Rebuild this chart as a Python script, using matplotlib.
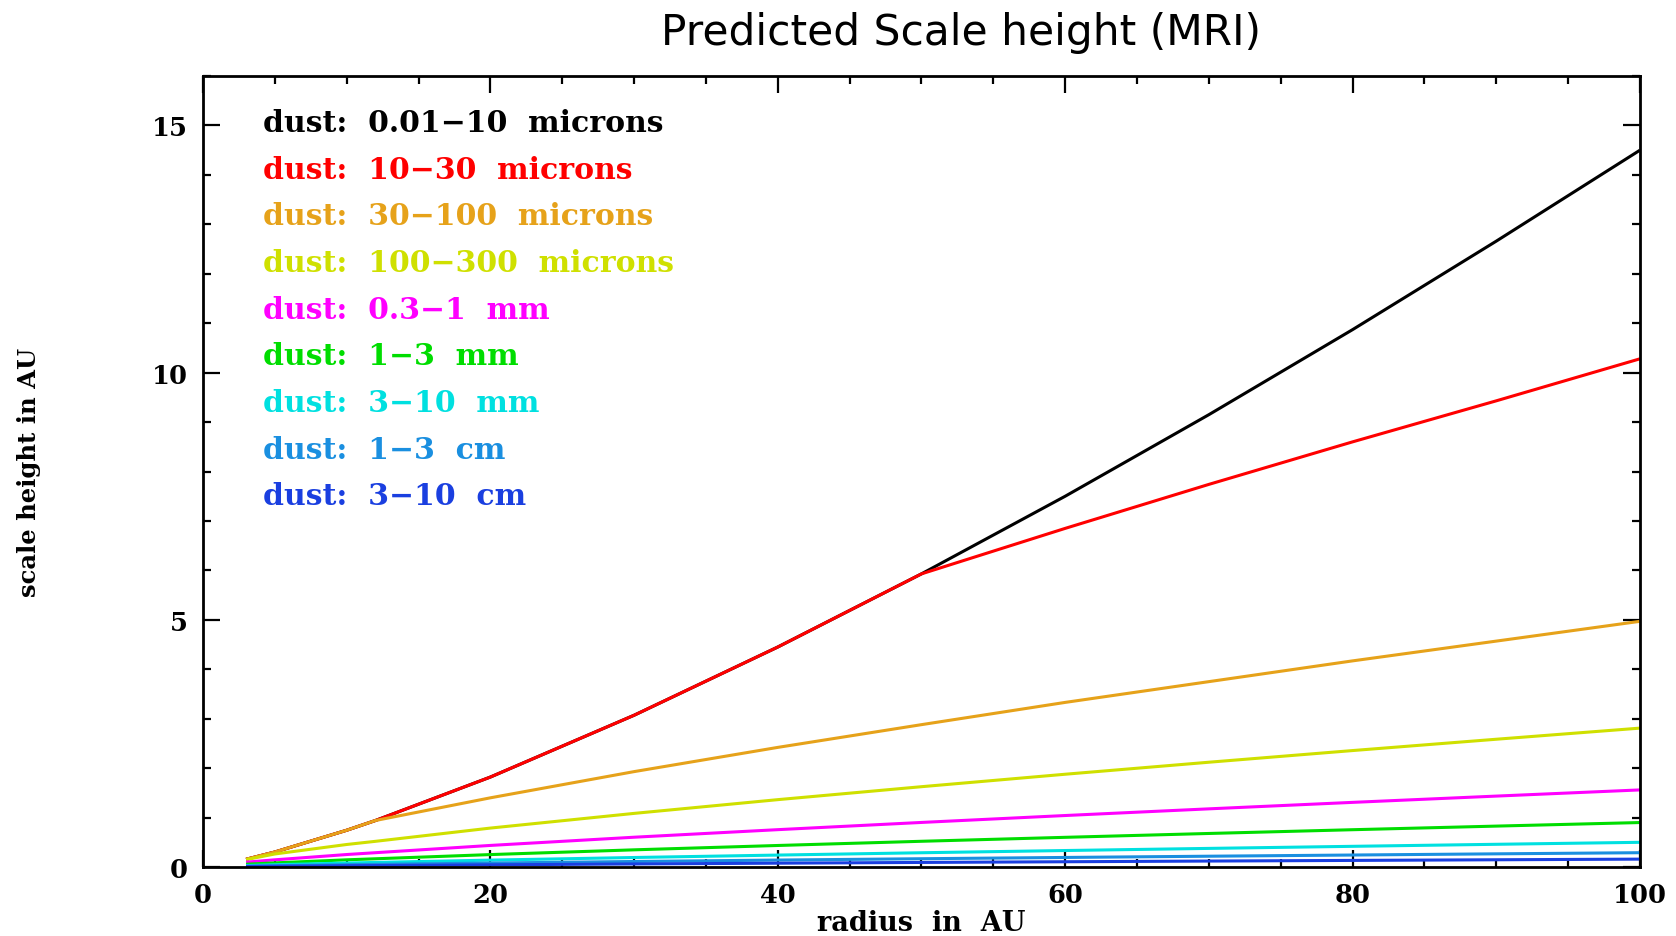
import matplotlib
matplotlib.use('Agg')
import matplotlib.pyplot as plt
from matplotlib.ticker import MultipleLocator

# радиусы (AU)
radius = [3, 5, 10, 12, 20, 30, 40, 50, 60, 70, 80, 90, 100]

# высота шкалы (AU) для каждого диапазона пыли
h_black = [0.157, 0.304, 0.744, 0.941, 1.82, 3.07, 4.45, 5.93, 7.50, 9.15, 10.87, 12.66, 14.5]
h_red = [0.157, 0.304, 0.744, 0.941, 1.82, 3.07, 4.45, 5.93, 6.85, 7.74, 8.60, 9.43, 10.28]
h_orange = [0.157, 0.304, 0.744, 0.941, 1.40, 1.93, 2.42, 2.88, 3.33, 3.75, 4.17, 4.57, 4.97]
h_yellow = [0.150, 0.264, 0.456, 0.52, 0.788, 1.085, 1.363, 1.625, 1.877, 2.12, 2.356, 2.585, 2.81]
h_magenta = [0.098, 0.146, 0.253, 0.29, 0.437, 0.603, 0.756, 0.902, 1.042, 1.177, 1.308, 1.435, 1.56]
h_green = [0.057, 0.084, 0.146, 0.167, 0.252, 0.348, 0.436, 0.521, 0.601, 0.679, 0.755, 0.828, 0.90]
h_cyan = [0.031, 0.047, 0.081, 0.093, 0.140, 0.193, 0.242, 0.289, 0.334, 0.377, 0.419, 0.46, 0.50]
h_ltblue = [0.018, 0.027, 0.047, 0.054, 0.081, 0.112, 0.141, 0.168, 0.194, 0.219, 0.243, 0.267, 0.29]
h_blue = [0.010, 0.015, 0.026, 0.030, 0.045, 0.062, 0.078, 0.093, 0.107, 0.121, 0.134, 0.147, 0.16]

labels = ['dust:  0.01\u221210  microns', 'dust:  10\u221230  microns',
          'dust:  30\u2212100  microns', 'dust:  100\u2212300  microns',
          'dust:  0.3\u22121  mm', 'dust:  1\u22123  mm', 'dust:  3\u221210  mm',
          'dust:  1\u22123  cm', 'dust:  3\u221210  cm']
colors = ['#000000', '#ff0000', '#e6a21a', '#cfe000', '#ff00ff',
          '#00dd00', '#00e0e0', '#1a8fe0', '#1a3fe0']
series = [h_black, h_red, h_orange, h_yellow, h_magenta, h_green, h_cyan, h_ltblue, h_blue]

serif = 'DejaVu Serif'

fig = plt.figure(figsize=(16.76, 9.37), dpi=100)
ax = fig.add_axes([0.1211, 0.0736, 0.8574, 0.8442])

for h, c in zip(series, colors):
    ax.plot(radius, h, color=c, lw=2.2, solid_capstyle='butt')

ax.set_xlim(0, 100)
ax.set_ylim(0, 16)
ax.xaxis.set_major_locator(MultipleLocator(20))
ax.xaxis.set_minor_locator(MultipleLocator(5))
ax.yaxis.set_major_locator(MultipleLocator(5))
ax.yaxis.set_minor_locator(MultipleLocator(1))
ax.tick_params(which='both', direction='in', top=True, right=True, width=1.6)
ax.tick_params(which='major', length=12, pad=11)
ax.tick_params(which='minor', length=6)
for s in ax.spines.values():
    s.set_linewidth(2)

for lab in ax.get_xticklabels() + ax.get_yticklabels():
    lab.set_fontfamily(serif)
    lab.set_fontweight('bold')
    lab.set_fontsize(18.5)

ax.set_xlabel('radius  in  AU', fontfamily=serif, fontweight='bold', fontsize=19.5, labelpad=1)
ax.set_ylabel('scale height in AU', fontfamily=serif, fontweight='bold', fontsize=17.5)
ax.yaxis.set_label_coords(-0.113, 0.5)

# подписи диапазонов пыли
for i, (lab, c) in enumerate(zip(labels, colors)):
    ax.text(0.0418, 0.9305 - i * 0.059, lab, color=c, transform=ax.transAxes,
            fontfamily=serif, fontweight='bold', fontsize=21.5, va='baseline')

fig.text(0.5734, 0.965, 'Predicted Scale height (MRI)', ha='center', va='center',
         fontsize=30.5, fontfamily='DejaVu Sans')

fig.savefig('out.png', dpi=100)
